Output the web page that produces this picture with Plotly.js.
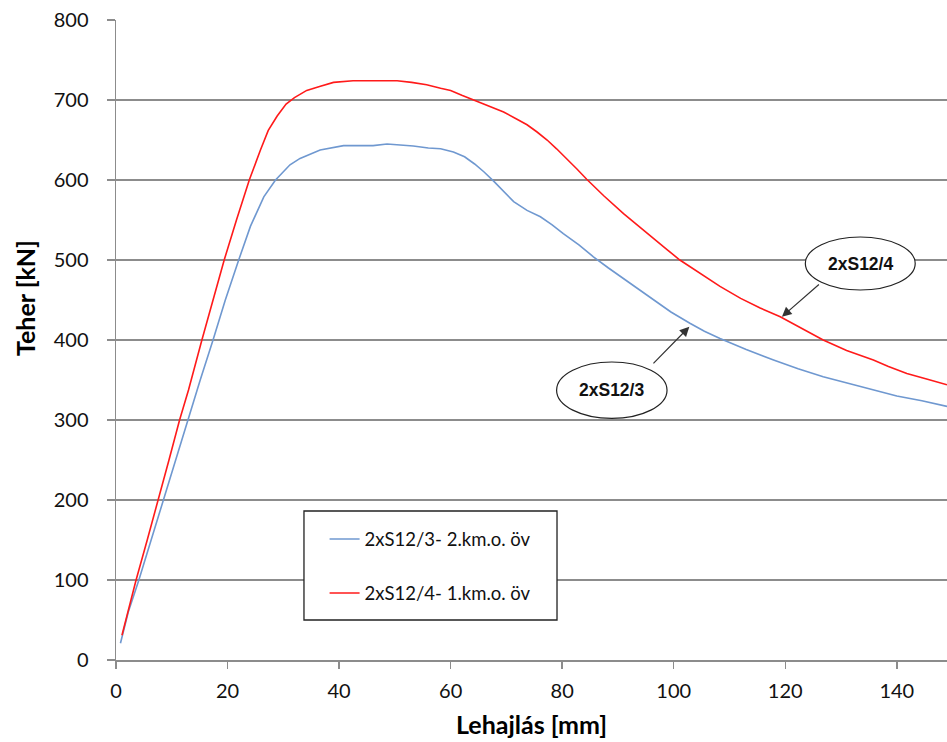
<!DOCTYPE html>
<html>
<head>
<meta charset="utf-8">
<script src="https://cdn.plot.ly/plotly-3.0.1.min.js"></script>
<style>html,body{margin:0;padding:0;background:#fff;}#chart{width:947px;height:742px;}</style>
</head>
<body>
<div id="chart"></div>
<script>
// Series: 2xS12/3 - 2.km.o. öv (blue)
const blueName = "2xS12/3- 2.km.o. öv";
const blueX = [0.8, 2.2, 4.1, 6.3, 8.5, 10.6, 12.8, 14.5, 15.1, 17.4, 19.6, 22, 24.1, 26.5, 28.6, 31.2, 33, 36.6, 40.8, 44, 46.1, 48.6, 51, 53.3, 56, 58.2, 60.5, 62.5, 64.3, 66, 67.8, 69.6, 71.3, 73.7, 76.1, 78.2, 80.2, 83, 85.6, 88.3, 91, 94, 96.4, 99.5, 102.9, 105.5, 108.3, 113, 117.9, 122.3, 126.8, 131.3, 135.8, 140, 144.5, 149];
const blueY = [21, 60, 100, 150, 200, 250, 300, 337, 350, 400, 450, 500, 542, 579, 600, 619, 627, 637.5, 643, 643, 643, 645, 644, 642.5, 640, 639, 635, 629, 620, 610, 598, 585, 573, 562, 554, 544, 533, 519, 504, 490, 477, 462, 450, 435, 421, 411, 402, 388, 375, 364, 354, 346, 337.5, 330, 324, 317];

// Series: 2xS12/4 - 1.km.o. öv (red)
const redName = "2xS12/4- 1.km.o. öv";
const redX = [1.07, 2.3, 3.6, 5.6, 7.6, 9.5, 11.4, 13, 15.4, 17.4, 19.4, 21.6, 23.9, 25.9, 27.3, 28.9, 30.5, 32, 34.2, 36.5, 39, 42.5, 46, 50.4, 53, 55.7, 58.2, 60, 62, 64.1, 66.8, 69.5, 71.9, 73.7, 75.5, 77.3, 79, 80.8, 82.6, 84.4, 87.5, 91, 93.7, 96.4, 98.8, 101.1, 104.7, 108.3, 112, 115.5, 119.1, 123, 126.8, 131, 135.8, 138.5, 141.8, 145.5, 149];
const redY = [31, 65, 100, 150, 200, 250, 300, 337.5, 400, 450, 500, 550, 600, 637.5, 662, 680, 695, 703, 712, 717, 722, 724, 724, 724, 722, 719, 714.6, 712, 706, 700, 693, 685, 676, 669, 660, 650, 639, 627, 614, 601, 580, 558, 542, 527, 513, 500, 483, 467, 452, 440, 429, 414, 400, 387, 375, 367, 358, 351, 344];

// Axis ticks and titles
const xTicks = [0, 20, 40, 60, 80, 100, 120, 140];
const yTicks = [0, 100, 200, 300, 400, 500, 600, 700, 800];
const xTitle = "Lehajlás [mm]";
const yTitle = "Teher [kN]";

// Callout labels
const calloutText = ["2xS12/4", "2xS12/3"];

const gridCol = "#8c8c8c";
const tickFont = {family: "Lato, 'Open Sans', sans-serif", size: 20, color: "#111"};
const titleFont = {family: "Lato, 'Open Sans', sans-serif", size: 25, color: "#000", weight: "bold"};

const traces = [
  {x: blueX, y: blueY, name: blueName, type: "scatter", mode: "lines",
   line: {color: "#6f98d0", width: 1.6}, legendgroup: "a"},
  {x: redX, y: redY, name: redName, type: "scatter", mode: "lines",
   line: {color: "#ff1a1a", width: 1.6}, legendgroup: "b"}
];

const layout = {
  width: 947, height: 742,
  margin: {l: 116, r: 0, t: 20, b: 82, pad: 0},
  paper_bgcolor: "#fff", plot_bgcolor: "#fff",
  showlegend: true,
  legend: {x: 0.251, y: 0.218, xanchor: "left", yanchor: "top",
    bgcolor: "rgba(0,0,0,0)", borderwidth: 0,
    font: {family: "Lato, 'Open Sans', sans-serif", size: 18.5, color: "#111"},
    traceorder: "grouped", tracegroupgap: 27},
  xaxis: {range: [0, 149], tickvals: xTicks, ticktext: xTicks.map(String),
    showgrid: false, zeroline: false, showline: true, linecolor: gridCol, linewidth: 1.5,
    ticks: "outside", ticklen: 7, tickcolor: gridCol, tickwidth: 1.5,
    ticklabelstandoff: 5,
    tickfont: tickFont,
    title: {text: xTitle, font: titleFont, standoff: 16}},
  yaxis: {range: [0, 800], tickvals: yTicks, ticktext: yTicks.map(String),
    showgrid: true, gridcolor: gridCol, gridwidth: 1.5, zeroline: false,
    showline: true, linecolor: gridCol, linewidth: 1.5,
    ticks: "outside", ticklen: 8, tickcolor: gridCol, tickwidth: 1.5,
    ticklabelstandoff: 14,
    tickfont: tickFont},
  shapes: [
    {type: "rect", xref: "paper", yref: "paper", x0: 0.2262, x1: 0.5307, y0: 0.0625, y1: 0.2328,
     line: {color: "#222", width: 1.3}, fillcolor: "#fff", layer: "above"},
    {type: "circle", xref: "x", yref: "y", x0: 123.6, x1: 143.3, y0: 462.5, y1: 528.75,
     line: {color: "#222", width: 1.2}, fillcolor: "#fff", layer: "above"},
    {type: "circle", xref: "x", yref: "y", x0: 79.0, x1: 98.8, y0: 302, y1: 372.5,
     line: {color: "#222", width: 1.2}, fillcolor: "#fff", layer: "above"}
  ],
  annotations: [
    {x: -0.1095, y: 0.5656, xref: "paper", yref: "paper", text: "<b>" + yTitle + "</b>", textangle: -90,
     showarrow: false, xanchor: "center", yanchor: "middle", font: titleFont},
    {x: 133.45, y: 495.6, xref: "x", yref: "y", text: "<b>" + calloutText[0] + "</b>", showarrow: false,
     font: {family: "'Liberation Sans', Arial, sans-serif", size: 17.5, color: "#111"}},
    {x: 88.9, y: 337.2, xref: "x", yref: "y", text: "<b>" + calloutText[1] + "</b>", showarrow: false,
     font: {family: "'Liberation Sans', Arial, sans-serif", size: 17.5, color: "#111"}},
    {x: 119.4, y: 429, ax: 126.3, ay: 471, xref: "x", yref: "y", axref: "x", ayref: "y",
     text: "", showarrow: true, arrowhead: 2, arrowsize: 1.6, arrowwidth: 1.2, arrowcolor: "#333"},
    {x: 102.8, y: 416.6, ax: 96.1, ay: 369, xref: "x", yref: "y", axref: "x", ayref: "y",
     text: "", showarrow: true, arrowhead: 2, arrowsize: 1.6, arrowwidth: 1.2, arrowcolor: "#333"}
  ]
};

Plotly.newPlot("chart", traces, layout, {displayModeBar: false, staticPlot: true});
</script>
</body>
</html>
